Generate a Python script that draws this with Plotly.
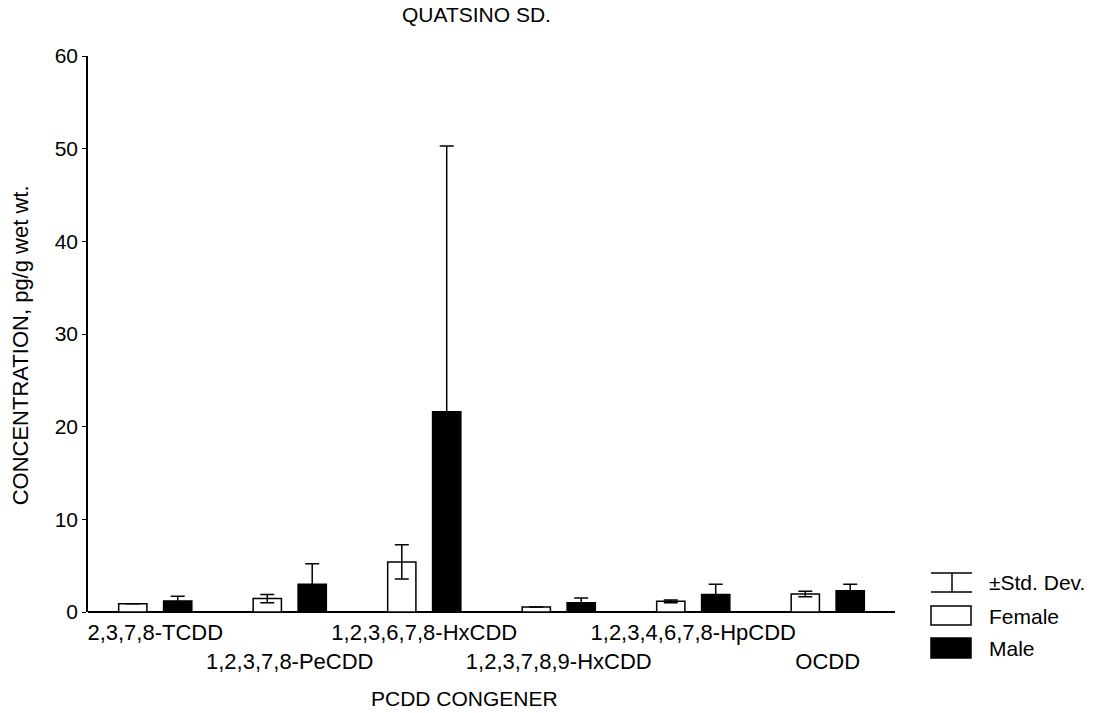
import plotly.graph_objects as go

congeners = ["2,3,7,8-TCDD", "1,2,3,7,8-PeCDD", "1,2,3,6,7,8-HxCDD",
             "1,2,3,7,8,9-HxCDD", "1,2,3,4,6,7,8-HpCDD", "OCDD"]
female_mean = [0.9, 1.45, 5.4, 0.55, 1.15, 1.95]
female_sd = [0.0, 0.45, 1.85, 0.0, 0.15, 0.3]
male_mean = [1.2, 3.0, 21.6, 1.0, 1.9, 2.3]
male_sd = [0.5, 2.2, 28.7, 0.5, 1.1, 0.7]
y_ticks = [0, 10, 20, 30, 40, 50, 60]

FONT = "Liberation Sans, Arial, sans-serif"
idx = list(range(len(congeners)))

fig = go.Figure()
fig.add_trace(go.Bar(
    x=[i - 0.167 for i in idx], y=female_mean, width=0.21,
    marker=dict(color="white", line=dict(color="black", width=1.5)),
    error_y=dict(type="data", array=female_sd, symmetric=True,
                 color="black", thickness=1.5, width=7),
    name="Female", showlegend=False))
fig.add_trace(go.Bar(
    x=[i + 0.167 for i in idx], y=male_mean, width=0.21,
    marker=dict(color="black", line=dict(color="black", width=1.5)),
    error_y=dict(type="data", array=male_sd, symmetric=True,
                 color="black", thickness=1.5, width=7),
    name="Male", showlegend=False))

ticktext = [c if i % 2 == 0 else "<br>" + c for i, c in enumerate(congeners)]

fig.update_layout(
    width=1096, height=713,
    margin=dict(l=88, r=201, t=56, b=101, autoexpand=False),
    paper_bgcolor="white", plot_bgcolor="white",
    font=dict(family=FONT, size=22, color="black"),
    showlegend=False,
    xaxis=dict(range=[-0.5, 5.5], tickvals=idx, ticktext=ticktext,
               showgrid=False, zeroline=False, showline=False,
               ticks="", tickangle=0, automargin=False,
               tickfont=dict(size=22), ticklabelstandoff=5),
    yaxis=dict(range=[0, 60], tickvals=y_ticks, showgrid=False,
               zeroline=True, zerolinecolor="black", zerolinewidth=1.5,
               showline=True, linecolor="black", linewidth=1.5,
               ticks="outside", ticklen=4, tickcolor="black",
               automargin=False, tickfont=dict(size=21)),
)

ann = [
    dict(text="QUATSINO SD.", x=0.482, y=1.074, xref="paper", yref="paper",
         showarrow=False, font=dict(size=21), xanchor="center", yanchor="middle"),
    dict(text="PCDD CONGENER", x=0.467, y=-0.155, xref="paper", yref="paper",
         showarrow=False, font=dict(size=21), xanchor="center", yanchor="middle"),
    dict(text="CONCENTRATION, pg/g wet wt.", x=-0.084, y=0.48, xref="paper",
         yref="paper", showarrow=False, textangle=-90, font=dict(size=22),
         xanchor="center", yanchor="middle"),
]
# legend (drawn manually)
def px2paper(px, py):
    return (px - 88) / 807, (612 - py) / 556

legend_rows = [("±Std. Dev.", 582), ("Female", 616), ("Male", 648)]
for label, py in legend_rows:
    x, y = px2paper(987, py)
    ann.append(dict(text=label, x=x, y=y, xref="paper", yref="paper",
                    showarrow=False, xanchor="left", yanchor="middle",
                    font=dict(size=21)))
fig.update_layout(annotations=ann)

shapes = []
def line(x0, y0, x1, y1):
    a0, b0 = px2paper(x0, y0)
    a1, b1 = px2paper(x1, y1)
    shapes.append(dict(type="line", xref="paper", yref="paper", x0=a0, y0=b0,
                       x1=a1, y1=b1, line=dict(color="black", width=1.5)))
def rect(x0, y0, x1, y1, fill):
    a0, b0 = px2paper(x0, y0)
    a1, b1 = px2paper(x1, y1)
    shapes.append(dict(type="rect", xref="paper", yref="paper", x0=a0, y0=b0,
                       x1=a1, y1=b1, fillcolor=fill,
                       line=dict(color="black", width=1.5)))
line(952, 573, 952, 592)
line(931, 573, 972, 573)
line(931, 592, 972, 592)
rect(931, 606, 971, 625, "white")
rect(931, 638, 971, 658, "black")
fig.update_layout(shapes=shapes)

fig.write_html("out.html")
